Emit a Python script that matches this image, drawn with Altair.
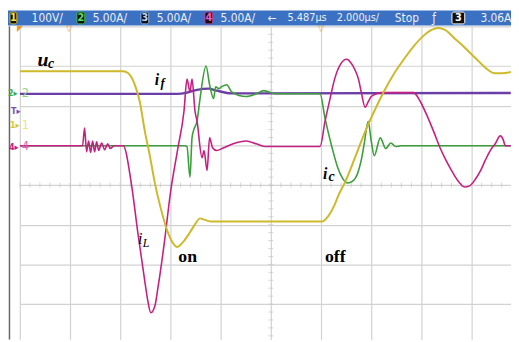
import altair as alt
import pandas as pd

# ---------------- data (scope graticule units: x = time divisions at 2 us/div, y = vertical divisions) ----------------
UC_X = [0.00, 2.06, 2.16, 2.29, 2.39, 2.49, 2.59, 2.69, 2.80, 2.94, 3.04, 3.14, 3.25, 3.39, 3.49, 3.59, 3.67, 3.82,
        6.02, 6.14, 6.27, 6.35, 6.47, 6.67, 6.86, 7.06, 7.25, 7.45, 7.65, 7.84, 8.04, 8.20, 8.33, 8.47, 8.69, 8.82,
        8.96, 9.10, 9.22, 9.33, 9.45, 9.61, 9.78]
UC_Y = [2.87, 2.87, 2.82, 2.53, 2.10, 1.36, 0.74, 0.05, -0.55, -1.16, -1.44, -1.56, -1.44, -1.19, -0.99, -0.84, -0.87, -0.92,
        -0.92, -0.79, -0.50, -0.25, 0.05, 0.67, 1.29, 1.86, 2.35, 2.80, 3.17, 3.49, 3.76, 3.91, 3.96, 3.91, 3.66, 3.52,
        3.34, 3.17, 3.02, 2.90, 2.82, 2.82, 2.85]

IF_X = [0.00, 3.14, 3.33, 3.53, 3.76, 3.92, 4.22, 9.78]
IF_Y = [2.30, 2.30, 2.33, 2.40, 2.43, 2.38, 2.31, 2.32]

IC_X = [0.00, 3.29, 3.33, 3.39, 3.43, 3.47, 3.53, 3.59, 3.71, 3.78, 3.86, 3.90, 3.96, 4.02, 4.12, 4.22, 4.51, 4.71,
        4.86, 5.10, 5.98, 6.08, 6.22, 6.33, 6.43, 6.53, 6.63, 6.73, 6.80, 6.86, 6.94, 7.00, 7.06, 7.18, 7.29, 7.39,
        7.49, 7.59, 9.78]
IC_Y = [0.99, 0.99, 0.97, 0.20, 1.19, 1.41, 1.61, 2.18, 3.00, 2.53, 2.18, 2.48, 2.43, 2.48, 2.53, 2.35, 2.23, 2.30,
        2.38, 2.30, 2.30, 1.68, 0.94, 0.45, 0.17, 0.05, 0.10, 0.30, 0.62, 1.04, 1.61, 1.11, 0.74, 1.19, 0.92, 1.06,
        0.97, 0.99, 0.99]

IL_X = [0.00, 1.25, 1.29, 1.33, 1.37, 1.41, 1.45, 1.49, 1.53, 1.57, 1.63, 1.69, 1.75, 1.80, 1.88, 2.06, 2.22, 2.35,
        2.49, 2.55, 2.61, 2.69, 2.75, 2.88, 3.00, 3.14, 3.27, 3.33, 3.39, 3.43, 3.49, 3.53, 3.63, 3.67, 3.73, 3.78,
        3.84, 3.92, 4.06, 4.25, 4.51, 4.71, 4.90, 5.98, 6.08, 6.18, 6.27, 6.39, 6.51, 6.59, 6.67, 6.75, 6.80, 6.88,
        6.94, 7.00, 7.10, 7.20, 7.84, 7.98, 8.10, 8.24, 8.37, 8.49, 8.63, 8.75, 8.86, 8.96, 9.06, 9.18, 9.27, 9.37,
        9.47, 9.57, 9.63, 9.67, 9.78]
IL_Y = [0.99, 0.99, 1.44, 0.84, 1.11, 0.82, 1.11, 0.84, 1.09, 0.87, 1.06, 0.89, 1.04, 0.92, 0.99, 0.99, 0.05, -1.19,
        -2.43, -2.92, -3.22, -3.05, -2.60, -1.44, -0.20, 0.87, 1.86, 2.67, 2.35, 2.67, 1.86, 1.61, 0.69, 0.87, 0.37, 1.19,
        0.94, 0.87, 0.94, 1.04, 1.11, 1.04, 0.97, 0.97, 1.61, 2.18, 2.67, 3.05, 3.17, 3.09, 2.92, 2.65, 2.35, 1.96,
        2.10, 2.23, 2.30, 2.33, 2.33, 2.10, 1.78, 1.36, 0.94, 0.62, 0.30, 0.07, -0.05, -0.02, 0.12, 0.37, 0.62, 0.87,
        1.04, 1.24, 1.14, 0.99, 0.99]

GRID_X = [0, 1, 2, 3, 4, 5, 6, 7, 8, 9]
GRID_Y = [-3, -2, -1, 0, 1, 2, 3, 4]

HEADER_LABELS = ["100V/", "5.00A/", "5.00A/", "5.00A/", "\u2190", "5.487\u00b5s", "2.000\u00b5s/", "Stop", "\u0192", "3.06A"]
HEADER_TAGS = ["1", "2", "3", "4", "3"]
SIDE_TAGS = ["2\u25b8", "T\u25b8", "1\u25b8", "4\u25b8"]
SIDE_NUMS = ["2", "1", "4"]

# ---------------- layout / style ----------------
W, H = 499, 318
X_DOMAIN = [0, 9.784]
Y_DOMAIN = [-3.89, 4.0]
HFONT = "DejaVu Sans Condensed, Liberation Sans Narrow, DejaVu Sans, sans-serif"
SERIF = "Liberation Serif, DejaVu Serif, serif"

X = alt.X("x:Q", scale=alt.Scale(domain=X_DOMAIN, nice=False, zero=False),
          axis=alt.Axis(values=GRID_X, grid=True, labels=False, ticks=False, domain=False, title=None,
                        gridColor="#d2d2d2", gridWidth=1.2))
Y = alt.Y("y:Q", scale=alt.Scale(domain=Y_DOMAIN, nice=False, zero=False),
          axis=alt.Axis(values=GRID_Y, grid=True, labels=False, ticks=False, domain=False, title=None,
                        gridColor="#d2d2d2", gridWidth=1.2))

dummy = pd.DataFrame({"d": [0]})
layers = []

# minor ticks on the centre lines
minor_x = [round(0.2 * k, 1) for k in range(0, 49)]
minor_y = [round(0.2 * k, 1) for k in range(-19, 20)]
layers.append(alt.Chart(pd.DataFrame({"x": minor_x, "y": [0] * len(minor_x)}))
              .mark_tick(orient="vertical", size=5, thickness=1, color="#c4c4c4").encode(x=X, y=Y))
layers.append(alt.Chart(pd.DataFrame({"x": [5] * len(minor_y), "y": minor_y}))
              .mark_tick(orient="horizontal", size=5, thickness=1, color="#c4c4c4").encode(x=X, y=Y))


def trace(xs, ys, color, width):
    df = pd.DataFrame({"x": xs, "y": ys, "i": list(range(len(xs)))})
    return alt.Chart(df).mark_line(color=color, strokeWidth=width, interpolate="monotone", clip=True).encode(
        x=X, y=Y, order="i:Q")


layers.append(trace(IF_X, IF_Y, "#6a3ea6", 2.4))
layers.append(trace(IC_X, IC_Y, "#3b9e3b", 1.6))
layers.append(trace(IL_X, IL_Y, "#c42081", 1.6))
layers.append(trace(UC_X, UC_Y, "#cdb92a", 2.0))

# trace annotations (data coordinates)
ANNOTS = [
    ("u", 0.353, 3.00, 20, "italic", "bold"),
    ("c", 0.560, 2.95, 14, "italic", "bold"),
    ("i", 2.686, 2.52, 16, "italic", "bold"),
    ("f", 2.800, 2.475, 13, "italic", "bold"),
    ("i", 6.040, 0.15, 16, "italic", "bold"),
    ("c", 6.150, 0.11, 14, "italic", "bold"),
    ("i", 2.353, -1.485, 16, "italic", "normal"),
    ("L", 2.450, -1.56, 12, "italic", "normal"),
    ("on", 3.157, -1.93, 18, "normal", "bold"),
    ("off", 6.078, -1.93, 18, "normal", "bold"),
]
for txt, ax, ay, fs, st, wt in ANNOTS:
    layers.append(alt.Chart(pd.DataFrame({"x": [ax], "y": [ay]})).mark_text(
        text=txt, align="left", baseline="alphabetic", font=SERIF, fontSize=fs, fontStyle=st,
        fontWeight=wt, color="#000000").encode(x=X, y=Y))

# left frame line
layers.append(alt.Chart(dummy).mark_rule(color="#666666", strokeWidth=1.5).encode(
    x=alt.value(-10.5), y=alt.value(0), y2=alt.value(H)))

# side channel markers
side_cols = ["#3fae3f", "#7a4fb0", "#d8c830", "#c42081"]
side_y = [68, 86, 100, 123]
side_x = [-12, -9, -10, -11]
for t, c, yy, xx in zip(SIDE_TAGS, side_cols, side_y, side_x):
    layers.append(alt.Chart(dummy).mark_text(text=t, align="left", baseline="middle", font=HFONT,
                                             fontSize=9, fontWeight="bold", color=c).encode(
        x=alt.value(xx), y=alt.value(yy)))
for t, c, yy in zip(SIDE_NUMS, ["#8ad88a", "#eee27a", "#de66ae"], [68, 100, 122]):
    layers.append(alt.Chart(dummy).mark_text(text=t, align="left", baseline="middle", font=HFONT,
                                             fontSize=13, color=c).encode(
        x=alt.value(2), y=alt.value(yy)))

# orange reference markers
for t, xx in zip(["\u25e4", "\u25bd", "\u25bd"], [0, 50, 306]):
    layers.append(alt.Chart(dummy).mark_text(text=t, align="center", baseline="middle", fontSize=8,
                                             color="#e89a2a").encode(x=alt.value(xx), y=alt.value(3)))

# header bar
layers.append(alt.Chart(dummy).mark_rect(color="#3b71c2").encode(
    x=alt.value(-12), x2=alt.value(W), y=alt.value(-16), y2=alt.value(-1)))
tag_x = [-10, 58, 123, 188, 439]
tag_w = [7, 8, 8, 8, 13]
tag_stroke = ["#d8c830", "#40c040", "#8fb4e8", "#d040a0", "#ffffff"]
tag_text = ["#f0e040", "#60e060", "#bcd6ff", "#f060c0", "#ffffff"]
for t, xx, ww, sc, tc in zip(HEADER_TAGS, tag_x, tag_w, tag_stroke, tag_text):
    layers.append(alt.Chart(dummy).mark_rect(fill="#101010", stroke=sc, strokeWidth=1, cornerRadius=2).encode(
        x=alt.value(xx), x2=alt.value(xx + ww), y=alt.value(-14.5), y2=alt.value(-2.5)))
    layers.append(alt.Chart(dummy).mark_text(text=t, align="center", baseline="middle", font=HFONT,
                                             fontSize=11, fontWeight="bold", color=tc).encode(
        x=alt.value(xx + ww / 2), y=alt.value(-8)))
hdr_x = [12, 74, 139, 204, 252, 272, 322, 381, 419, 468]
hdr_size = [12, 12, 12, 12, 12, 11, 11, 12, 12, 12]
for t, xx, fs in zip(HEADER_LABELS, hdr_x, hdr_size):
    layers.append(alt.Chart(dummy).mark_text(text=t, align="left", baseline="middle", font=HFONT,
                                             fontSize=fs, color="#eeeeee").encode(
        x=alt.value(xx), y=alt.value(-8)))

chart = alt.layer(*layers).properties(
    width=W, height=H,
    autosize=alt.AutoSizeParams(type="none"),
    padding={"left": 12, "top": 16, "right": 0, "bottom": 0},
    background="white",
).configure_view(stroke=None)

chart.save("out.html", embed_options={"renderer": "svg", "actions": False})
